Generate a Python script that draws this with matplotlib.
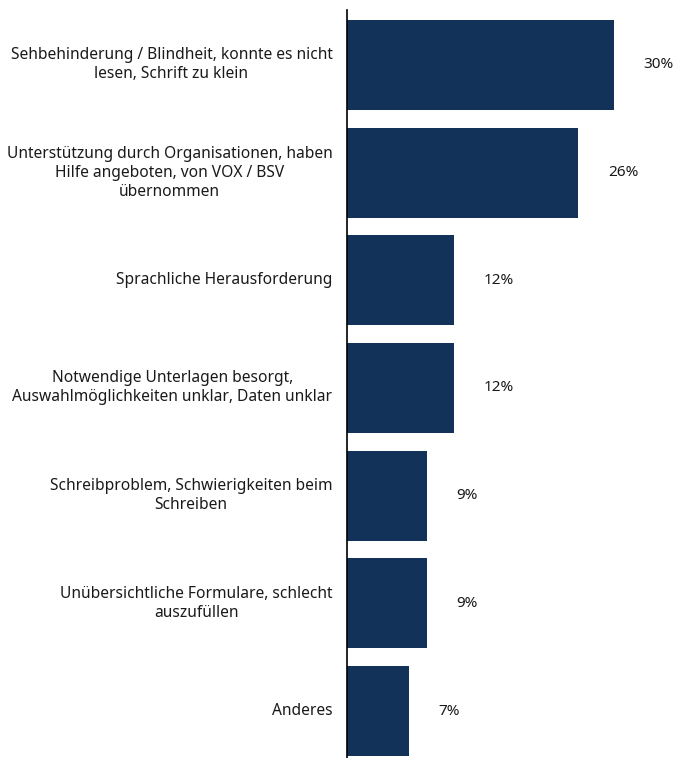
import matplotlib
matplotlib.use("Agg")
import matplotlib.pyplot as plt

categories = [
    "Sehbehinderung / Blindheit, konnte es nicht\nlesen, Schrift zu klein",
    "Unterstützung durch Organisationen, haben\nHilfe angeboten, von VOX / BSV\nübernommen",
    "Sprachliche Herausforderung",
    "Notwendige Unterlagen besorgt,\nAuswahlmöglichkeiten unklar, Daten unklar",
    "Schreibproblem, Schwierigkeiten beim\nSchreiben",
    "Unübersichtliche Formulare, schlecht\nauszufüllen",
    "Anderes",
]
values = [30, 26, 12, 12, 9, 9, 7]
value_labels = ["30%", "26%", "12%", "12%", "9%", "9%", "7%"]

plt.rcParams["font.family"] = ["Noto Sans", "DejaVu Sans"]

W, H = 673, 758
fig = plt.figure(figsize=(W / 100, H / 100), dpi=100)
px_per_unit = 8.9
ax_left, ax_top = 347, 10
ax_w = W - ax_left
ax = fig.add_axes([ax_left / W, 0, ax_w / W, (H - ax_top) / H])

bar_color = "#12325a"
ypos = list(range(len(values)))
ax.barh(ypos, values, height=0.836, color=bar_color)

ax.set_xlim(0, ax_w / px_per_unit)
ax.set_ylim(6.436, -0.51)

for y, v, lab in zip(ypos, values, value_labels):
    ax.text(v + 3.3, y, lab, va="center", ha="left", fontsize=11, color="#1a1a1a")

for y, cat in zip(ypos, categories):
    ax.annotate(cat, xy=(0, y), xytext=(-10.5, 0), textcoords="offset points",
                ha="right", va="center", multialignment="center",
                fontsize=11.2, color="#1a1a1a", linespacing=1.25)

for s in ["top", "right", "bottom"]:
    ax.spines[s].set_visible(False)
ax.spines["left"].set_color("#000000")
ax.spines["left"].set_linewidth(1.2)
ax.set_xticks([])
ax.set_yticks([])

fig.savefig("out.png", dpi=100)
